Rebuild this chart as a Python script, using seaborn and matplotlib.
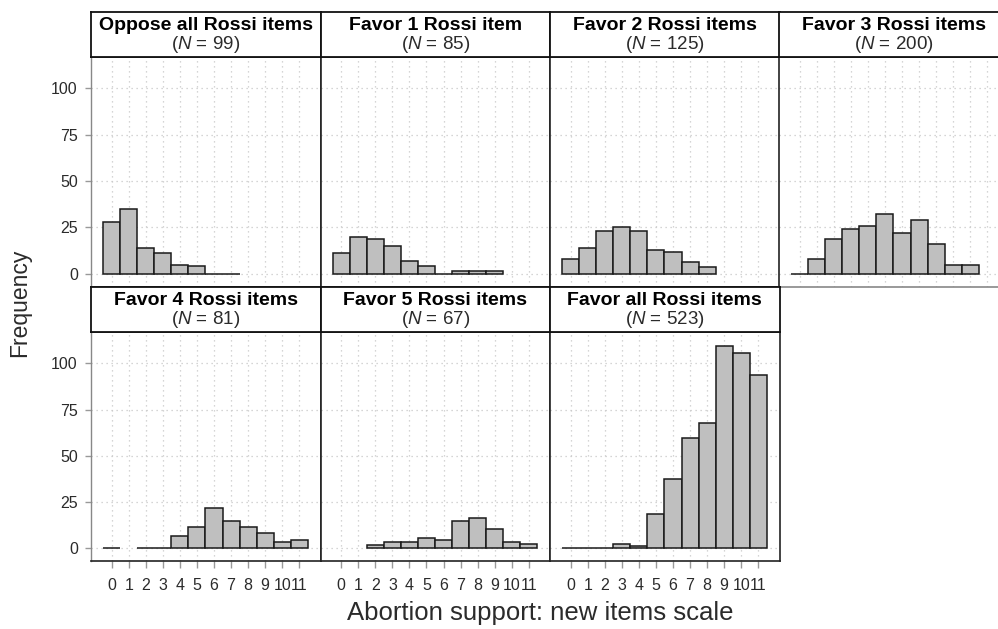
import numpy as np
import pandas as pd
import matplotlib
matplotlib.use("Agg")
import matplotlib.pyplot as plt
import seaborn as sns

# ---------------- data ----------------
panel_titles = ["Oppose all Rossi items", "Favor 1 Rossi item", "Favor 2 Rossi items",
                "Favor 3 Rossi items", "Favor 4 Rossi items", "Favor 5 Rossi items",
                "Favor all Rossi items"]
panel_n = [99, 85, 125, 200, 81, 67, 523]

oppose_scores = [0, 1, 2, 3, 4, 5, 6, 7]
oppose_counts = [28, 35, 14, 11, 5, 4, 0, 0]

favor1_scores = [0, 1, 2, 3, 4, 5, 6, 7, 8, 9]
favor1_counts = [11, 20, 19, 15, 7, 4, 0, 1.5, 1.5, 1.5]

favor2_scores = [0, 1, 2, 3, 4, 5, 6, 7, 8]
favor2_counts = [8, 14, 23, 25, 23, 13, 12, 6.5, 3.5]

favor3_scores = [0, 1, 2, 3, 4, 5, 6, 7, 8, 9, 10]
favor3_counts = [0, 8, 19, 24, 26, 32, 22, 29, 16, 5, 5]

favor4_scores = [0, 2, 3, 4, 5, 6, 7, 8, 9, 10, 11]
favor4_counts = [0, 0, 0, 6.5, 11.5, 21.5, 14.5, 11.5, 8.5, 3.5, 4.5]

favor5_scores = [2, 3, 4, 5, 6, 7, 8, 9, 10, 11]
favor5_counts = [1.5, 3.5, 3.5, 5.5, 4.5, 14.5, 16.5, 10.5, 3.5, 2.5]

favorall_scores = [0, 1, 2, 3, 4, 5, 6, 7, 8, 9, 10, 11]
favorall_counts = [0, 0, 0, 2.5, 1.2, 18.5, 37.5, 59.5, 67.5, 109.5, 105.5, 93.5]

x_ticks = list(range(12))
y_ticks = [0, 25, 50, 75, 100]
x_label = "Abortion support: new items scale"
y_label = "Frequency"

panel_data = [(oppose_scores, oppose_counts), (favor1_scores, favor1_counts),
              (favor2_scores, favor2_counts), (favor3_scores, favor3_counts),
              (favor4_scores, favor4_counts), (favor5_scores, favor5_counts),
              (favorall_scores, favorall_counts)]

# ---------------- style ----------------
sns.set_theme(style="white")
plt.rcParams['font.family'] = ['Liberation Sans', 'DejaVu Sans']
plt.rcParams['mathtext.fontset'] = 'custom'
plt.rcParams['mathtext.it'] = 'Liberation Sans:italic'
plt.rcParams['mathtext.rm'] = 'Liberation Sans'

W, H = 998, 629
fig = plt.figure(figsize=(W / 100, H / 100), dpi=100)
fig.patch.set_facecolor("white")

col_x = [91, 320.5, 550, 779]
col_w = 229.5
rows = [(12, 57, 286.7), (286.7, 332.3, 561)]  # strip top, panel top, panel bottom

FILL = "#bfbfbf"
EDGE = "#1a1a1a"
GRID = "#c8c8c8"
TXT = "#2b2b2b"

def fx(px):
    return px / W

def fy(py):
    return 1 - py / H

for i, (scores, counts) in enumerate(panel_data):
    r, c = divmod(i, 4)
    s_top, p_top, p_bot = rows[r]
    x0 = col_x[c]
    # panel axes
    ax = fig.add_axes([fx(x0), fy(p_bot), col_w / W, (p_bot - p_top) / H])
    df = pd.DataFrame({"score": scores, "count": counts})
    sns.barplot(data=df, x="score", y="count", native_scale=True, width=1,
                color=FILL, saturation=1, edgecolor=EDGE, linewidth=1.1,
                errorbar=None, ax=ax, zorder=3)
    ax.set_xlim(-1.22, 12.25)
    ax.set_ylim(-6.9, 116.8)
    ax.set_xticks(x_ticks)
    ax.set_yticks(y_ticks)
    ax.grid(True, which="major", axis="both", linestyle=(0, (1, 3)),
            color=GRID, linewidth=0.9, zorder=0)
    ax.set_axisbelow(True)
    ax.set_xlabel("")
    ax.set_ylabel("")
    for sp in ax.spines.values():
        sp.set_color("#222222")
        sp.set_linewidth(1.2)
    if c == 0:
        ax.spines["left"].set_color("#888888")
        ax.spines["left"].set_linewidth(1.0)
        ax.tick_params(axis="y", length=4.5, width=1, color="#999999",
                       labelsize=11.5, labelcolor=TXT, pad=5, left=True)
    else:
        ax.tick_params(axis="y", left=False, labelleft=False)
    if r == 1:
        ax.tick_params(axis="x", length=5, width=1, color="#999999",
                       labelsize=11.5, labelcolor=TXT, pad=7, bottom=True)
    else:
        ax.tick_params(axis="x", bottom=False, labelbottom=False)
    if i == 3:
        ax.spines["bottom"].set_color("#888888")

    # strip axes
    sax = fig.add_axes([fx(x0), fy(p_top), col_w / W, (p_top - s_top) / H])
    sax.set_xticks([])
    sax.set_yticks([])
    sax.set_facecolor("white")
    for sp in sax.spines.values():
        sp.set_color("#111111")
        sp.set_linewidth(1.3)
    sax.text(0.5, 0.70, panel_titles[i], ha="center", va="center",
             fontsize=14, fontweight="bold", color="black", transform=sax.transAxes)
    sax.text(0.5, 0.27, r"($\mathit{N}$ = %d)" % panel_n[i], ha="center", va="center",
             fontsize=13.5, color=TXT, transform=sax.transAxes)

fig.text(fx(540), fy(613), x_label, ha="center", va="center", fontsize=18.5, color=TXT)
fig.text(fx(20), fy(303), y_label, ha="center", va="center", rotation=90,
         fontsize=16.5, color=TXT)

fig.savefig("out.png", dpi=100, facecolor="white")
